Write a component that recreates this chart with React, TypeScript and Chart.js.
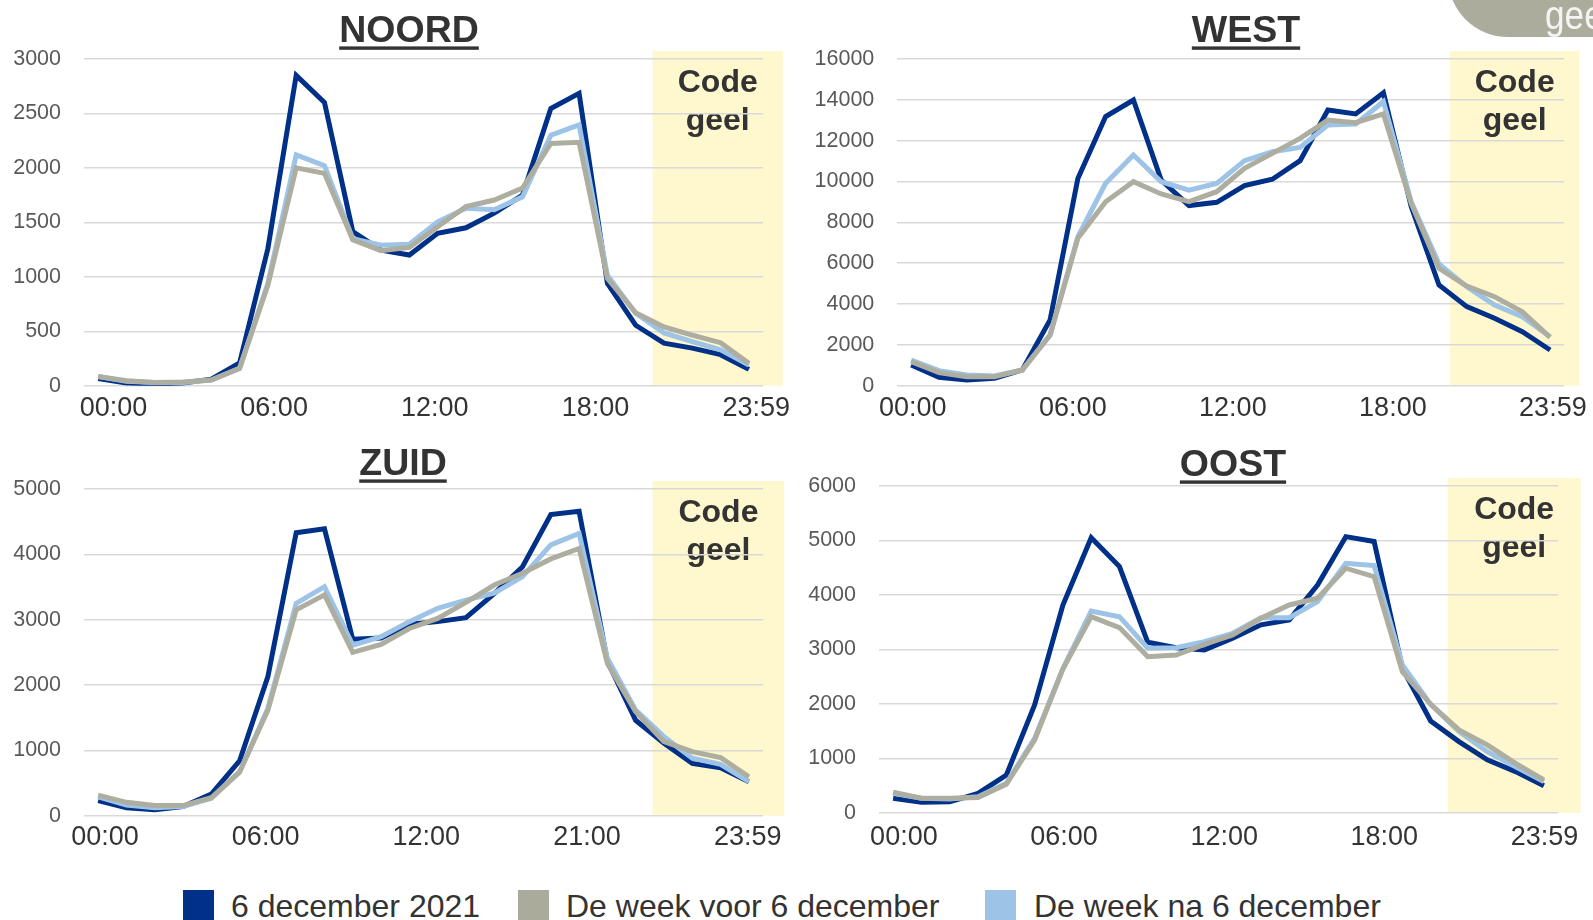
import React, { useEffect, useRef } from "react";
import { Chart, registerables } from "chart.js";

Chart.register(...registerables);

// ---------- data ----------
const HOURS = [0, 1, 2, 3, 4, 5, 6, 7, 8, 9, 10, 11, 12, 13, 14, 15, 16, 17, 18, 19, 20, 21, 22, 23];

const TICK_LABELS = ["00:00", "06:00", "12:00", "18:00", "23:59"];
const TICK_LABELS_ZUID = ["00:00", "06:00", "12:00", "21:00", "23:59"];

const SERIES_NAMES = ["6 december 2021", "De week voor 6 december", "De week na 6 december"];

const NOORD_DAY = [65, 25, 15, 25, 60, 210, 1260, 2850, 2600, 1415, 1245, 1200, 1400, 1450, 1585, 1750, 2545, 2685, 940, 555, 390, 345, 285, 150];
const NOORD_BEFORE = [85, 45, 30, 35, 52, 160, 925, 2000, 1950, 1340, 1240, 1270, 1460, 1645, 1705, 1815, 2225, 2235, 985, 670, 540, 465, 395, 205];
const NOORD_AFTER = [85, 40, 30, 30, 52, 160, 940, 2120, 2020, 1350, 1290, 1300, 1505, 1630, 1615, 1735, 2300, 2395, 1015, 665, 485, 405, 330, 190];

const WEST_DAY = [1010, 410, 280, 360, 770, 3220, 10150, 13180, 13990, 10070, 8820, 8980, 9800, 10110, 11020, 13500, 13310, 14350, 8770, 4930, 3870, 3300, 2645, 1750];
const WEST_BEFORE = [1180, 640, 440, 440, 770, 2480, 7220, 9010, 9990, 9390, 9010, 9500, 10650, 11380, 12110, 13010, 12880, 13310, 8930, 5750, 4880, 4360, 3620, 2370];
const WEST_AFTER = [1260, 735, 520, 475, 770, 2480, 7300, 9910, 11300, 9990, 9580, 9910, 11020, 11460, 11670, 12770, 12820, 13910, 9010, 5960, 4850, 3950, 3380, 2400];

const ZUID_DAY = [230, 120, 90, 140, 330, 840, 2130, 4330, 4390, 2700, 2720, 2930, 2970, 3030, 3400, 3810, 4610, 4660, 2360, 1460, 1110, 800, 735, 520];
const ZUID_BEFORE = [315, 205, 155, 155, 275, 670, 1615, 3150, 3380, 2500, 2620, 2865, 3020, 3265, 3530, 3710, 3930, 4090, 2330, 1590, 1135, 980, 890, 595];
const ZUID_AFTER = [290, 165, 120, 140, 265, 670, 1645, 3250, 3505, 2610, 2740, 2970, 3175, 3300, 3405, 3660, 4145, 4320, 2410, 1615, 1210, 880, 785, 520];

const OOST_DAY = [265, 190, 200, 355, 690, 1980, 3815, 5050, 4520, 3130, 3030, 2990, 3205, 3450, 3540, 4180, 5070, 4980, 2650, 1685, 1305, 970, 755, 495];
const OOST_BEFORE = [375, 265, 265, 280, 520, 1335, 2640, 3600, 3400, 2865, 2895, 3090, 3265, 3570, 3815, 3940, 4490, 4335, 2590, 1990, 1520, 1245, 905, 600];
const OOST_AFTER = [355, 265, 250, 295, 540, 1365, 2650, 3705, 3600, 3020, 3030, 3140, 3295, 3580, 3580, 3875, 4580, 4540, 2715, 1990, 1490, 1120, 845, 570];

// y-axis ranges [min, max, step]
const NOORD_Y = [0, 3000, 500];
const WEST_Y = [0, 16000, 2000];
const ZUID_Y = [0, 5000, 1000];
const OOST_Y = [0, 6000, 1000];

// "Code geel" period per panel (hours)
const NOORD_CODE_GEEL = [19.6, 24.2];
const WEST_CODE_GEEL = [19.4, 24.05];
const ZUID_CODE_GEEL = [19.6, 24.25];
const OOST_CODE_GEEL = [19.6, 24.3];
const CODE_GEEL_TEXT = ["Code", "geel"];

// ---------- styles ----------
const FONT = '"Liberation Sans", Arial, Helvetica, sans-serif';
const C_DAY = "#003087";
const C_BEFORE = "#ADADA0";
const C_AFTER = "#9DC3E6";
const C_YELLOW = "#FFF7CD";
const C_TEXT = "#333333";

type Panel = {
  title: string;
  day: number[];
  before: number[];
  after: number[];
  ticks: string[];
  y: number[];
  band: number[];
  canvas: { left: number; top: number; w: number; h: number };
  area: { left: number; top: number; right: number; bottom: number };
  labelStart: number;
  labelStep: number;
  tickPad: number;
  titleX: number;
  titleBase: number;
};

const PANELS: Panel[] = [
  {
    title: "NOORD", day: NOORD_DAY, before: NOORD_BEFORE, after: NOORD_AFTER, ticks: TICK_LABELS, y: NOORD_Y, band: NOORD_CODE_GEEL,
    canvas: { left: 0, top: 0, w: 800, h: 440 },
    area: { left: 84, top: 59, right: 763, bottom: 385.7 },
    labelStart: 0.54, labelStep: 5.68, tickPad: 7, titleX: 409, titleBase: 42,
  },
  {
    title: "WEST", day: WEST_DAY, before: WEST_BEFORE, after: WEST_AFTER, ticks: TICK_LABELS, y: WEST_Y, band: WEST_CODE_GEEL,
    canvas: { left: 800, top: 0, w: 793, h: 440 },
    area: { left: 897.3, top: 59, right: 1564, bottom: 385.7 },
    labelStart: 0.06, labelStep: 5.76, tickPad: 7, titleX: 1246, titleBase: 42,
  },
  {
    title: "ZUID", day: ZUID_DAY, before: ZUID_BEFORE, after: ZUID_AFTER, ticks: TICK_LABELS_ZUID, y: ZUID_Y, band: ZUID_CODE_GEEL,
    canvas: { left: 0, top: 440, w: 800, h: 420 },
    area: { left: 84, top: 489, right: 763, bottom: 815.7 },
    labelStart: 0.24, labelStep: 5.68, tickPad: 6, titleX: 403, titleBase: 475,
  },
  {
    title: "OOST", day: OOST_DAY, before: OOST_BEFORE, after: OOST_AFTER, ticks: TICK_LABELS, y: OOST_Y, band: OOST_CODE_GEEL,
    canvas: { left: 800, top: 440, w: 793, h: 420 },
    area: { left: 879, top: 486, right: 1558, bottom: 812.7 },
    labelStart: 0.38, labelStep: 5.66, tickPad: 9, titleX: 1233, titleBase: 476,
  },
];

function PanelChart({ p }: { p: Panel }) {
  const ref = useRef<HTMLCanvasElement | null>(null);
  useEffect(() => {
    if (!ref.current) return;
    const c = p.canvas;
    const a = p.area;
    const yw = a.left - c.left;
    const xh = c.top + c.h - a.bottom;
    const pts = (vals: number[]) => HOURS.map((h, i) => ({ x: h, y: vals[i] }));

    const decor = {
      id: "decor",
      beforeDraw(chart: any) {
        const { ctx, chartArea, scales } = chart;
        const xs = scales.x;
        const x0 = xs.getPixelForValue(p.band[0]);
        const x1 = xs.getPixelForValue(p.band[1]);
        ctx.save();
        ctx.fillStyle = C_YELLOW;
        ctx.fillRect(x0, chartArea.top - 8, x1 - x0, chartArea.bottom - chartArea.top + 8);
        ctx.fillStyle = C_TEXT;
        ctx.font = `bold 32px ${FONT}`;
        ctx.textAlign = "center";
        ctx.textBaseline = "alphabetic";
        const cx = (x0 + x1) / 2;
        ctx.fillText(CODE_GEEL_TEXT[0], cx, chartArea.top + 33);
        ctx.fillText(CODE_GEEL_TEXT[1], cx, chartArea.top + 71);
        // title with underline
        ctx.font = `bold 37.5px ${FONT}`;
        const tx = p.titleX - c.left;
        const tb = p.titleBase - c.top;
        ctx.fillText(p.title, tx, tb);
        const w = ctx.measureText(p.title).width;
        ctx.fillRect(tx - w / 2, tb + 4.4, w, 3.4);
        ctx.restore();
      },
    };

    const chart = new Chart(ref.current, {
      type: "line",
      data: {
        datasets: [
          { label: SERIES_NAMES[0], data: pts(p.day), borderColor: C_DAY, backgroundColor: C_DAY, order: 3 },
          { label: SERIES_NAMES[1], data: pts(p.before), borderColor: C_BEFORE, backgroundColor: C_BEFORE, order: 1 },
          { label: SERIES_NAMES[2], data: pts(p.after), borderColor: C_AFTER, backgroundColor: C_AFTER, order: 2 },
        ],
      },
      options: {
        responsive: false,
        animation: false,
        devicePixelRatio: 1,
        elements: {
          line: { borderWidth: 5, tension: 0, fill: false },
          point: { radius: 0, hoverRadius: 0 },
        },
        layout: { padding: { left: 0, top: a.top - c.top, right: c.left + c.w - a.right, bottom: 0 } },
        plugins: {
          legend: { display: false },
          tooltip: { enabled: false },
          title: { display: false },
        },
        scales: {
          x: {
            type: "linear",
            min: -0.5,
            max: 23.5,
            bounds: "data",
            grid: { display: false, drawTicks: false },
            border: { display: false },
            ticks: {
              autoSkip: false,
              maxRotation: 0,
              minRotation: 0,
              padding: p.tickPad,
              color: C_TEXT,
              font: { size: 27, family: FONT },
              callback: (_v: any, i: number) => p.ticks[i],
            },
            afterBuildTicks: (s: any) => {
              s.ticks = p.ticks.map((_t, i) => ({ value: p.labelStart + i * p.labelStep }));
            },
            afterFit: (s: any) => {
              s.height = xh;
              s.paddingLeft = 0;
              s.paddingRight = 0;
            },
          },
          y: {
            min: p.y[0],
            max: p.y[1],
            grid: { color: "#D9D9D9", lineWidth: 1.5, drawTicks: false },
            border: { display: false },
            ticks: {
              stepSize: p.y[2],
              padding: 23,
              color: "#595959",
              font: { size: 21.5, family: FONT },
              callback: (v: any) => String(v),
            },
            afterFit: (s: any) => {
              s.width = yw;
              s.paddingTop = 0;
              s.paddingBottom = 0;
            },
          },
        },
      } as any,
      plugins: [decor],
    });
    return () => chart.destroy();
  }, [p]);

  return (
    <canvas
      ref={ref}
      width={p.canvas.w}
      height={p.canvas.h}
      style={{
        position: "absolute",
        left: p.canvas.left,
        top: p.canvas.top,
        width: p.canvas.w,
        height: p.canvas.h,
      }}
    />
  );
}

const LEGEND = [
  { color: C_DAY, sq: 183, tx: 231 },
  { color: "#ABAB9C", sq: 518, tx: 566 },
  { color: C_AFTER, sq: 985, tx: 1034 },
];

export default function App() {
  return (
    <div
      style={{
        position: "absolute",
        left: 0,
        top: 0,
        width: 1593,
        height: 920,
        overflow: "hidden",
        background: "#ffffff",
        fontFamily: FONT,
      }}
    >
      {PANELS.map((p) => (
        <PanelChart key={p.title} p={p} />
      ))}
      {/* decorative tab at top right */}
      <div
        style={{
          position: "absolute",
          left: 1448,
          top: -30,
          width: 200,
          height: 67,
          background: "#ACAC9D",
          borderBottomLeftRadius: 60,
        }}
      />
      <div
        style={{
          position: "absolute",
          left: 1545,
          top: -5,
          fontSize: 40,
          lineHeight: "40px",
          color: "#F4F4F4",
          whiteSpace: "nowrap",
          transform: "scaleX(0.88)",
          transformOrigin: "left top",
        }}
      >
        geel
      </div>
      {/* legend */}
      {LEGEND.map((l, i) => (
        <React.Fragment key={i}>
          <div
            style={{
              position: "absolute",
              left: l.sq,
              top: 890,
              width: 31,
              height: 31,
              background: l.color,
            }}
          />
          <div
            style={{
              position: "absolute",
              left: l.tx,
              top: 889.6,
              fontSize: 32,
              lineHeight: "32px",
              color: C_TEXT,
              whiteSpace: "nowrap",
            }}
          >
            {SERIES_NAMES[i]}
          </div>
        </React.Fragment>
      ))}
    </div>
  );
}
